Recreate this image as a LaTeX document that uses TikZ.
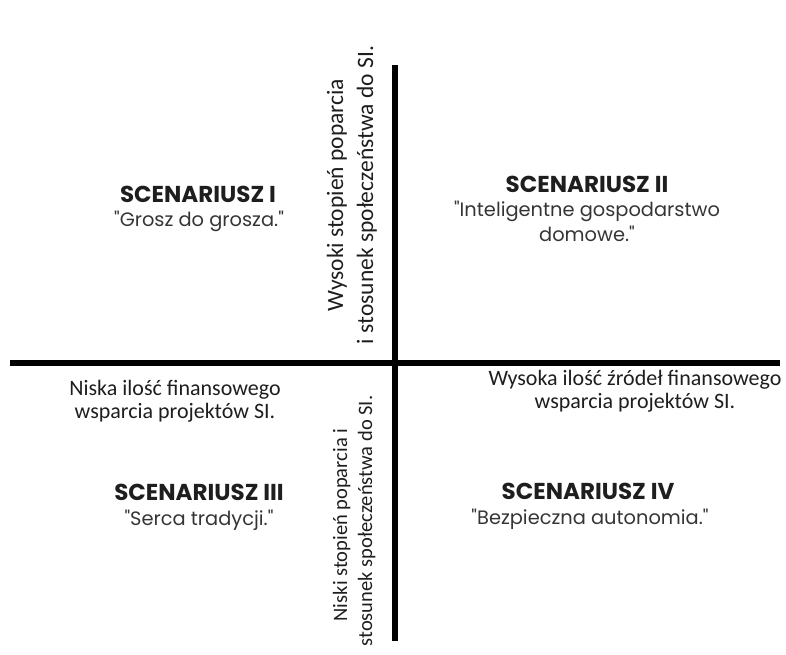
\documentclass[tikz,border=0pt]{standalone}
\usepackage{fontspec}
\setmainfont{Carlito}
\newfontfamily\scenfont{Poppins}
\usepackage{xcolor}
\usepackage{tikz}
\usetikzlibrary{positioning}

\definecolor{inkgray}{HTML}{1E1E1E}
\tikzset{
  axisline/.style={line width=5.5pt,black},
  axislabel/.style={anchor=base,text=inkgray,font=\fontsize{22}{26}\selectfont,inner sep=0pt},
  sidelabel/.style={axislabel,rotate=90},
  scentitle/.style={anchor=base,text=inkgray,font=\scenfont\bfseries\fontsize{23}{27}\selectfont,inner sep=0pt},
  scentext/.style={anchor=base,text=inkgray!90,font=\scenfont\fontsize{19.4}{24}\selectfont,inner sep=0pt}
}

\begin{document}
\begin{tikzpicture}[x=1pt,y=-1pt]
\useasboundingbox (0,0) rectangle (786,654);
% axes
\coordinate (top) at (395,65);
\coordinate (bottom) at (395,641);
\coordinate (left) at (10,363);
\coordinate (right) at (780,363);
\draw[axisline] (left)--(right);
\draw[axisline] (top)--(bottom);
% quadrant I
\node[scentitle] (s1) at (198,202) {SCENARIUSZ I};
\node[scentext] (t1) at (199,226) {"Grosz do grosza."};
% quadrant II
\node[scentitle] (s2) at (587,192) {SCENARIUSZ II};
\node[scentext] (t2a) at (587,216) {"Inteligentne gospodarstwo};
\node[scentext] (t2b) at (587,241) {domowe."};
% quadrant III
\node[scentitle] (s3) at (199,500) {SCENARIUSZ III};
\node[scentext] (t3) at (199,525) {"Serca tradycji."};
% quadrant IV
\node[scentitle] (s4) at (588,499) {SCENARIUSZ IV};
\node[scentext] (t4) at (590,524) {"Bezpieczna autonomia."};
% axis descriptions
\node[axislabel] (lowa) at (175,395) {Niska ilość finansowego};
\node[axislabel] (lowb) at (175,418) {wsparcia projektów SI.};
\node[axislabel] (higha) at (635,385) {Wysoka ilość źródeł finansowego};
\node[axislabel] (highb) at (635,408) {wsparcia projektów SI.};
\node[sidelabel,font=\fontsize{23.5}{28}\selectfont] (upa) at (343,195) {Wysoki stopień poparcia};
\node[sidelabel,font=\fontsize{23.5}{28}\selectfont] (upb) at (373,195) {i stosunek społeczeństwa do SI.};
\node[sidelabel,font=\fontsize{20.5}{25}\selectfont] (downa) at (347,525) {Niski stopień poparcia i};
\node[sidelabel,font=\fontsize{20.5}{25}\selectfont] (downb) at (372,521) {stosunek społeczeństwa do SI.};
\end{tikzpicture}
\end{document}
